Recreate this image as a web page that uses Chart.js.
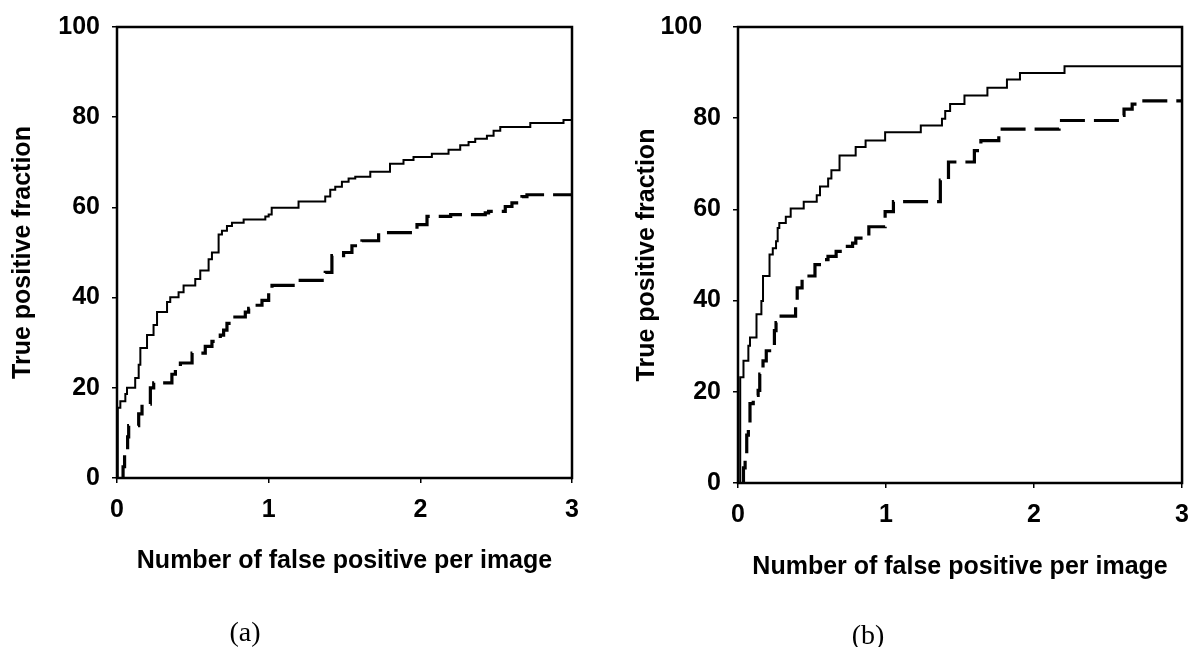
<!DOCTYPE html>
<html>
<head>
<meta charset="utf-8">
<script src="https://cdn.jsdelivr.net/npm/chart.js@4.4.1/dist/chart.umd.min.js"></script>
<style>
  body{margin:0;background:#fff;width:1201px;height:647px;position:relative;overflow:hidden}
  .panel{position:absolute;top:0;height:647px}
  .cap{position:absolute;width:80px;text-align:center;font:28px "Liberation Serif","Times New Roman",serif;line-height:28px;color:#000}
</style>
</head>
<body>
<div class="panel" style="left:0;width:600px"><canvas id="chartA" width="600" height="647"></canvas></div>
<div class="panel" style="left:600px;width:601px"><canvas id="chartB" width="601" height="647"></canvas></div>
<div class="cap" style="left:205px;top:618px">(a)</div>
<div class="cap" style="left:828px;top:621px">(b)</div>
<script>
// x = false positives per image, y = true positive fraction (%)
const aSolidX = [0,0.005,0.022,0.055,0.066,0.12,0.143,0.154,0.198,0.241,0.264,0.33,0.351,0.406,0.439,0.516,0.549,0.604,0.626,0.67,0.692,0.725,0.758,0.835,0.978,1.0,1.02,1.197,1.373,1.406,1.439,1.483,1.527,1.571,1.67,1.8,1.889,1.955,2.076,2.186,2.263,2.318,2.362,2.439,2.483,2.527,2.725,2.944,3.0];
const aSolidY = [0,15.6,17,18.6,20,22.2,25.1,28.8,31.7,33.9,36.8,39,40.1,41.2,42.7,44.1,46,48.5,50,54,54.8,55.9,56.6,57.3,58,58.4,59.9,61.3,62.4,63.9,64.6,65.7,66.4,66.8,67.9,69.7,70.5,71.2,71.9,72.8,73.8,74.5,75.2,75.9,77,77.8,78.7,79.4,79.4];
const aDashX = [0.035,0.04,0.05,0.07,0.077,0.143,0.165,0.22,0.242,0.362,0.385,0.418,0.495,0.582,0.626,0.681,0.703,0.725,0.758,0.846,0.868,0.912,0.956,1.0,1.022,1.208,1.373,1.417,1.494,1.549,1.615,1.725,1.978,2.044,2.2,2.428,2.45,2.56,2.604,2.67,2.703,3.0];
const aDashY = [0,2.5,5.4,9.1,11.6,14.2,16.4,20,21.1,23,24.4,25.5,27.7,29.2,30.3,31.7,32.8,34.3,35.7,36.8,37.6,38.3,39.4,41.2,42.7,43.8,45.6,49.3,50,51.5,52.6,54.4,56.2,58,58.4,58.8,59.1,60.2,61,62.4,62.8,62.8];

const bSolidX = [0,0.015,0.037,0.07,0.081,0.125,0.158,0.169,0.213,0.235,0.257,0.268,0.279,0.323,0.356,0.444,0.532,0.554,0.609,0.631,0.686,0.795,0.862,0.994,1.235,1.378,1.4,1.433,1.53,1.685,1.817,1.905,2.206,3.0];
const bSolidY = [0,23.2,26.8,30.1,31.9,37,39.9,45.4,50.1,51.5,53,55.9,57,58.4,60.2,61.7,63.1,65,66.8,68.6,71.8,73.7,75.1,76.9,78.4,79.9,81.6,83.1,85,86.7,88.5,89.9,91.4,91.4];
const bDashX = [0.03,0.037,0.048,0.059,0.07,0.081,0.103,0.136,0.147,0.169,0.191,0.246,0.257,0.268,0.389,0.4,0.433,0.455,0.52,0.575,0.608,0.663,0.718,0.774,0.796,0.884,0.994,1.05,1.367,1.422,1.597,1.641,1.762,2.169,2.575,2.608,2.663,2.696,3.0];
const bDashY = [0,3.3,6.5,10.5,12.7,17.4,19.2,20.3,23.9,26.8,29,33.4,35.2,36.6,39.9,42.8,44.6,45.4,47.9,49,49.7,50.8,51.9,52.6,53.7,56.2,59.5,61.7,66.4,70.4,72.9,75.1,77.6,79.5,80.6,82,83.1,83.8,83.8];

const xTitle = 'Number of false positive per image';
const yTitle = 'True positive fraction';

const pts = (xs, ys) => xs.map((x, i) => ({x, y: ys[i]}));

// box around the plot, drawn on top of everything
const frame = {
  id: 'frame',
  afterDatasetsDraw(chart) {
    const {ctx, chartArea: a} = chart;
    ctx.save();
    ctx.strokeStyle = '#000';
    ctx.lineWidth = 2.5;
    ctx.strokeRect(a.left, a.top, a.right - a.left, a.bottom - a.top);
    ctx.restore();
  }
};

function makeChart(id, solid, dashed, box) {
  const font = {family: '"Liberation Sans", Arial, sans-serif', size: 25, weight: 'bold'};
  return new Chart(document.getElementById(id), {
    type: 'line',
    data: {datasets: [
      {data: solid, borderColor: '#000', borderWidth: 2, stepped: 'before', pointRadius: 0, fill: false},
      {data: dashed, borderColor: '#000', borderWidth: 3.2, borderDash: [25, 9], stepped: 'before', pointRadius: 0, fill: false}
    ]},
    options: {
      responsive: false,
      animation: false,
      events: [],
      layout: {padding: {left: 0, top: box.top, right: box.right, bottom: 0}},
      plugins: {legend: {display: false}, tooltip: {enabled: false}},
      scales: {
        x: {
          type: 'linear', min: 0, max: 3,
          afterFit: s => { s.height = 647 - box.bottom; },
          ticks: {stepSize: 1, color: '#000', font, padding: 12, maxRotation: 0},
          grid: {drawOnChartArea: false, drawTicks: true, tickLength: 5, color: '#000', lineWidth: 1.5},
          border: {display: false},
          title: {display: true, text: xTitle, color: '#000', font, padding: {top: 0, bottom: box.xTitlePad}}
        },
        y: {
          min: 0, max: 100,
          afterFit: s => { s.width = box.left; },
          ticks: {stepSize: 20, color: '#000', font, padding: 12, callback: box.yLabel},
          grid: {drawOnChartArea: false, drawTicks: true, tickLength: 5, color: '#000', lineWidth: 1.5},
          border: {display: false},
          title: {display: true, text: yTitle, color: '#000', font, padding: {top: box.yTitlePad, bottom: 0}}
        }
      }
    },
    plugins: [frame]
  });
}

makeChart('chartA', pts(aSolidX, aSolidY), pts(aDashX, aDashY),
  {left: 117, top: 22, right: 28, bottom: 478, xTitlePad: 71, yTitlePad: 8, yLabel: v => v});
// in (b) the top label sits further left than the others
makeChart('chartB', pts(bSolidX, bSolidY), pts(bDashX, bDashY),
  {left: 138, top: 24, right: 8, bottom: 483, xTitlePad: 65, yTitlePad: 32,
   yLabel: v => v === 100 ? '100\u2007\u2009' : v});
</script>
</body>
</html>
